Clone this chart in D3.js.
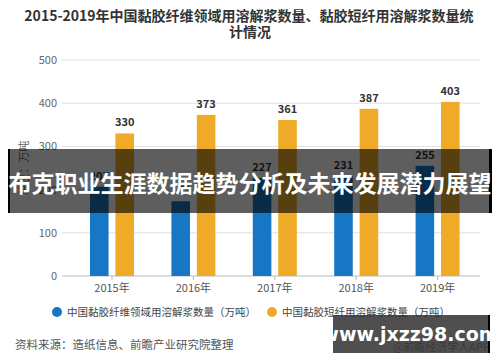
<!DOCTYPE html>
<html>
<head>
<meta charset="utf-8">
<script src="https://cdn.jsdelivr.net/npm/d3@7"></script>
<style>
  body { margin: 0; background: #fff; }
  svg { display: block; font-family: "Noto Sans CJK SC", "Noto Sans", sans-serif; }
</style>
</head>
<body>
<div id="chart"></div>
<script>
const years = ["2015年", "2016年", "2017年", "2018年", "2019年"];
const seriesNames = ["中国黏胶纤维领域用溶解浆数量（万吨）", "中国黏胶短纤用溶解浆数量（万吨）"];
const fiberValues = [207, 173, 227, 231, 255];
const staple = [330, 373, 361, 387, 403];
const yTicks = [0, 100, 200, 300, 400, 500];
const colors = ["#1777c4", "#efab27"];

const W = 500, H = 362;
const svg = d3.select("#chart").append("svg").attr("width", W).attr("height", H);

const x0 = d3.scaleBand().domain(years).range([71.3, 478.3]);
const x1 = d3.scaleBand().domain([0, 1]).range([-22, 22]).paddingInner(0.27);
const y = d3.scaleLinear().domain([0, 500]).range([276, 60]);
const cx = d => x0(d) + x0.bandwidth() / 2;

// title
const title = svg.append("text")
    .attr("text-anchor", "middle")
    .attr("font-size", 14)
    .attr("font-weight", "bold")
    .attr("fill", "#333");
title.append("tspan").attr("x", 249).attr("y", 21).text("2015-2019年中国黏胶纤维领域用溶解浆数量、黏胶短纤用溶解浆数量统");
title.append("tspan").attr("x", 250).attr("y", 37).text("计情况");

// grid + y labels
svg.append("g").selectAll("line")
  .data(yTicks.filter(t => t > 0))
  .enter().append("line")
    .attr("x1", 62).attr("x2", 480)
    .attr("y1", d => y(d)).attr("y2", d => y(d))
    .attr("stroke", "#dedede");

svg.append("g").selectAll("text")
  .data(yTicks)
  .enter().append("text")
    .attr("x", 57).attr("y", d => y(d) + 4)
    .attr("text-anchor", "end")
    .attr("font-size", 11)
    .attr("fill", "#666")
    .text(d => d);

svg.append("text")
    .attr("transform", "translate(28,168) rotate(-90)")
    .attr("text-anchor", "middle")
    .attr("font-size", 11)
    .attr("fill", "#666")
    .text("单位：万吨");

// x axis
const xAxis = svg.append("g").attr("transform", "translate(0,276)")
    .call(d3.axisBottom(x0).tickSize(4).tickPadding(4).tickSizeOuter(0));
xAxis.select(".domain").attr("stroke", "#bbb").attr("d", "M62,0H480");
xAxis.selectAll(".tick line").attr("stroke", "#bbb");
xAxis.selectAll(".tick text").attr("font-size", 11).attr("fill", "#555")
    .attr("font-family", "\"Noto Sans CJK SC\", sans-serif");

// bars
const rows = years.map((yr, i) => [fiberValues[i], staple[i]]);
const groups = svg.append("g").selectAll("g")
  .data(rows)
  .enter().append("g")
    .attr("transform", (d, i) => `translate(${cx(years[i])},0)`);

groups.selectAll("rect")
  .data(d => d)
  .enter().append("rect")
    .attr("x", (d, j) => x1(j))
    .attr("width", x1.bandwidth())
    .attr("y", d => y(d))
    .attr("height", d => y(0) - y(d))
    .attr("fill", (d, j) => colors[j]);

groups.selectAll("text")
  .data(d => d)
  .enter().append("text")
    .attr("x", (d, j) => x1(j) + x1.bandwidth() / 2)
    .attr("y", d => y(d) - 7)
    .attr("text-anchor", "middle")
    .attr("font-size", 11)
    .attr("font-weight", "bold")
    .attr("fill", "#333")
    .text(d => d);

// legend
const legendX = [57, 272];
seriesNames.forEach((name, i) => {
  svg.append("circle").attr("cx", legendX[i]).attr("cy", 312).attr("r", 5).attr("fill", colors[i]);
  svg.append("text")
      .attr("x", legendX[i] + 10).attr("y", 316)
      .attr("font-size", 10.5)
      .attr("fill", "#444")
      .text(name);
});

// source
svg.append("text")
    .attr("x", 15).attr("y", 349)
    .attr("font-size", 11.5)
    .attr("fill", "#555")
    .text("资料来源：造纸信息、前瞻产业研究院整理");

svg.append("text")
    .attr("x", 490).attr("y", 351)
    .attr("text-anchor", "end")
    .attr("font-size", 11)
    .attr("fill", "#888")
    .text("@前瞻经济学人APP");

// overlay banner
svg.append("rect")
    .attr("x", 8).attr("y", 149).attr("width", 484).attr("height", 64)
    .attr("fill", "rgba(0,0,0,0.63)");
svg.append("rect").attr("x", 8).attr("y", 149).attr("width", 2).attr("height", 64).attr("fill", "#000");
svg.append("rect").attr("x", 489).attr("y", 149).attr("width", 3).attr("height", 64).attr("fill", "#000");
svg.append("text")
    .attr("x", 250).attr("y", 192)
    .attr("text-anchor", "middle")
    .attr("font-size", 23)
    .attr("font-weight", "bold")
    .attr("fill", "#fff")
    .text("布克职业生涯数据趋势分析及未来发展潜力展望");

// site watermark
svg.append("rect")
    .attr("x", 333).attr("y", 315).attr("width", 157).attr("height", 38)
    .attr("fill", "rgba(40,40,40,0.82)");
svg.append("rect").attr("x", 488).attr("y", 315).attr("width", 2).attr("height", 38).attr("fill", "#000");
svg.append("text")
    .attr("x", 410).attr("y", 341)
    .attr("text-anchor", "middle")
    .attr("font-size", 19)
    .attr("font-weight", "bold")
    .attr("font-family", "\"DejaVu Sans\", sans-serif")
    .attr("fill", "#fff")
    .text("www.jxzz98.com");
</script>
</body>
</html>
